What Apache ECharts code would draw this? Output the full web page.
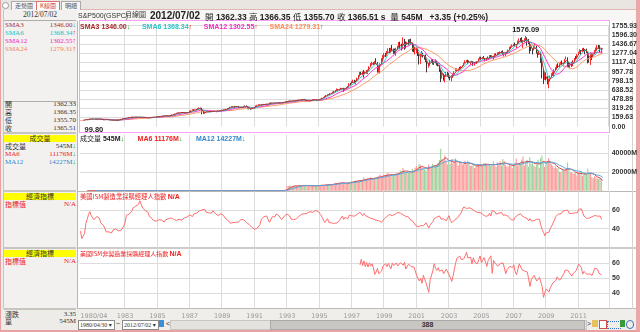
<!DOCTYPE html>
<html lang="zh-Hant">
<head>
<meta charset="utf-8">
<title>S&amp;P500(GSPC) 月線圖</title>
<script src="https://cdn.jsdelivr.net/npm/echarts@6/dist/echarts.min.js"></script>
<style>
html,body{margin:0;padding:0;}
body{width:640px;height:332px;position:relative;overflow:hidden;background:#eeece8;font-family:"Liberation Sans",Arial,sans-serif;}
.a{position:absolute;white-space:nowrap;line-height:1;}
.cjk{font-family:"Noto Sans CJK TC","Noto Sans CJK SC",sans-serif;}
.sf{font-family:"Liberation Serif","DejaVu Serif",serif;}
.b{font-weight:bold;}
.box{position:absolute;}
#chart{position:absolute;left:0;top:0;width:640px;height:332px;z-index:2;}
.ov{z-index:3;}
.yel{position:absolute;left:4px;width:72px;background:#ffff00;text-align:center;font-size:7px;line-height:7px;color:#333;}
.row{position:absolute;left:5px;width:71px;font-size:7px;line-height:7px;}
.row .r{position:absolute;right:0;top:0;}
.dn{color:#119911;}
.up{color:#ee1111;}
</style>
</head>
<body>
<!-- window frame -->
<div class="box" style="left:0;top:0;width:640px;height:10px;background:#e9e6e2;"></div>
<div class="box" style="left:0;top:0;width:1px;height:332px;background:#e9a0a0;"></div>
<div class="box" style="left:636px;top:0;width:4px;height:332px;background:#eaa8a8;"></div>
<div class="box" style="left:0;top:330px;width:640px;height:2px;background:#e9a0a0;"></div>
<div class="box" style="left:77px;top:9px;width:559px;height:1px;background:#e3b4b4;"></div>

<!-- tabs -->
<div class="a" style="left:2px;top:2px;width:5px;height:5px;border:1px solid #999;border-radius:4px;background:#fff;"></div>
<div class="a cjk" style="left:11px;top:1px;height:8px;padding:0 3px;border:1px solid #aaa;border-bottom:none;font-size:6px;line-height:8px;color:#555;background:#f6f6f6;">走勢圖</div>
<div class="a cjk" style="left:36px;top:1px;height:8px;padding:0 3px;border:1px solid #e07070;border-bottom:none;font-size:6px;line-height:8px;color:#d04040;background:#fff;">K線圖</div>
<div class="a cjk" style="left:61px;top:1px;height:8px;padding:0 3px;border:1px solid #aaa;border-bottom:none;font-size:6px;line-height:8px;color:#555;background:#f6f6f6;">明細</div>

<!-- left info panel -->
<div class="box" style="left:3px;top:10px;width:73px;height:299px;background:#f2f1ef;border-right:1px solid #b9b6b2;border-left:1px solid #c9c6c2;"></div>
<div class="a sf" style="left:4px;top:11px;width:72px;text-align:center;font-size:7.5px;color:#333;">2012/07/02</div>
<div class="box" style="left:4px;top:20px;width:72px;height:1px;background:#b0aca8;"></div>
<div class="row sf" style="top:22px;color:#a03030;">SMA3<span class="r" id="lv3"></span></div>
<div class="row sf" style="top:30px;color:#22bbbb;">SMA6<span class="r" id="lv6"></span></div>
<div class="row sf" style="top:38px;color:#ee22bb;">SMA12<span class="r" id="lv12"></span></div>
<div class="row sf" style="top:46px;color:#ee8855;">SMA24<span class="r" id="lv24"></span></div>
<div class="box" style="left:4px;top:101px;width:72px;height:1px;background:#b0aca8;"></div>
<div class="row cjk" style="top:101px;color:#333;">開<span class="r sf" id="vo"></span></div>
<div class="row cjk" style="top:109px;color:#333;">高<span class="r sf" id="vh"></span></div>
<div class="row cjk" style="top:117px;color:#333;">低<span class="r sf" id="vl"></span></div>
<div class="row cjk" style="top:125px;color:#333;">收<span class="r sf" id="vc"></span></div>
<div class="box" style="left:4px;top:132px;width:72px;height:2px;background:#c8c4c0;"></div>
<div class="yel cjk" style="top:135px;">成交量</div>
<div class="row cjk" style="top:143px;color:#333;">成交量<span class="r sf" id="pv"></span></div>
<div class="row sf" style="top:151px;color:#ee2222;">MA6<span class="r" id="pm6"></span></div>
<div class="row sf" style="top:159px;color:#3388cc;">MA12<span class="r" id="pm12"></span></div>
<div class="box" style="left:4px;top:190px;width:72px;height:2px;background:#c8c4c0;"></div>
<div class="yel cjk" style="top:193px;">經濟指標</div>
<div class="row cjk" style="top:201px;color:#ee2222;">指標值<span class="r sf">N/A</span></div>
<div class="box" style="left:4px;top:247px;width:72px;height:2px;background:#c8c4c0;"></div>
<div class="yel cjk" style="top:250px;">經濟指標</div>
<div class="row cjk" style="top:258px;color:#ee2222;">指標值<span class="r sf">N/A</span></div>
<div class="box" style="left:4px;top:308px;width:72px;height:2px;background:#c8c4c0;"></div>
<div class="row cjk" style="top:311px;color:#333;">漲跌<span class="r sf" id="bchg"></span></div>
<div class="row cjk" style="top:318px;color:#333;">量<span class="r sf" id="bvol"></span></div>

<!-- title bar -->
<div class="box" style="left:77px;top:10px;width:559px;height:11px;background:#f7f6f4;"></div>
<div class="a ov" style="left:78px;top:12px;font-size:7px;color:#333;">S&amp;P500(GSPC)</div>
<div class="a ov cjk" style="left:125px;top:10.5px;font-size:7px;color:#333;">月線圖</div>
<div class="a ov b" style="left:150px;top:10.5px;font-size:10px;color:#222;" id="tdate"></div>
<div class="a ov b" style="left:205px;top:11.5px;font-size:8.5px;color:#222;" id="tline"></div>

<!-- panes -->
<div class="box" style="left:78px;top:21px;width:558px;height:288px;background:#fff;"></div>
<div class="box" style="left:79px;top:20px;width:529px;height:111px;border:1px solid #f2a4f2;"></div>
<div class="box" style="left:78px;top:191px;width:558px;height:1px;background:#bdbab6;"></div>
<div class="box" style="left:78px;top:247px;width:558px;height:2px;background:#cfccc8;"></div>
<div class="box" style="left:78px;top:308px;width:558px;height:1px;background:#bdbab6;"></div>
<div class="box" style="left:632px;top:21px;width:1px;height:288px;background:#d8d5d1;"></div>

<!-- in-pane legends -->
<div class="a ov b" style="left:80px;top:23px;font-size:7px;" id="lgPrice"></div>
<div class="a ov b" style="left:80px;top:135px;font-size:7px;" id="lgVol"></div>
<div class="a ov cjk" style="left:80px;top:193px;font-size:6.3px;color:#ee2222;">美國ISM製造業採購經理人指數 <span class="b" style="font-family:'Liberation Sans';font-size:7px;">N/A</span></div>
<div class="a ov cjk" style="left:80px;top:250px;font-size:6px;color:#ee2222;">美國ISM非製造業採購經理人指數 <span class="b" style="font-family:'Liberation Sans';font-size:7px;">N/A</span></div>

<!-- bottom controls -->
<div class="box" style="left:78px;top:309px;width:558px;height:21px;background:#f0eeeb;"></div>
<div class="a sf" style="left:78px;top:320px;width:34px;height:8px;border:1px solid #8a8a8a;background:#fff;font-size:6px;line-height:8px;color:#333;padding-left:1px;">1980/04/30 ▾</div>
<div class="a" style="left:116px;top:320px;font-size:7px;color:#333;">~</div>
<div class="a sf" style="left:122px;top:320px;width:34px;height:8px;border:1px solid #8a8a8a;background:#fff;font-size:6px;line-height:8px;color:#333;padding-left:1px;">2012/07/02 ▾</div>
<div class="box" style="left:159px;top:320px;width:5px;height:7px;background:#3f8fd8;"></div>
<div class="a" style="left:166px;top:320px;font-size:7px;color:#333;">&lt;</div>
<div class="box" style="left:170px;top:320px;width:415px;height:8px;background:#e4e2df;border:1px solid #c9c6c2;"></div>
<div class="box b" style="left:270px;top:320px;width:313px;height:8px;background:#c9c7c4;border:1px solid #aaa;text-align:center;font-size:7px;line-height:8px;color:#333;">388</div>
<div class="a" style="left:587px;top:320px;font-size:7px;color:#333;">&gt;</div>
<div class="box" style="left:592px;top:320px;width:6px;height:7px;background:#e8c060;"></div>
<div class="box" style="left:599px;top:320px;width:6px;height:7px;background:#fff;border:1px solid #d05050;"></div>
<div class="box" style="left:607px;top:321px;width:12px;height:6px;border:1px dotted #3a6fd0;"></div>
<div class="box" style="left:620px;top:320px;width:5px;height:7px;background:#3a9a3a;"></div>
<div class="box" style="left:626px;top:320px;width:6px;height:7px;border:1px solid #4070c0;border-radius:4px;"></div>

<div id="chart"></div>

<script>
// S&P 500 monthly bars, 1980/04 .. 2012/07
const startYear = 1980, startMonth = 4, barCount = 388, padSlots = 4;

const opens = [
 102.09,106.29,111.24,114.24,121.67,122.38,125.46,127.47,140.52,
 135.76,129.55,131.27,136.00,132.81,132.59,131.21,130.92,122.79,116.18,121.89,126.35,
 122.55,120.40,113.11,111.96,116.44,111.88,109.61,107.09,119.51,120.42,133.71,138.54,
 140.64,145.30,148.06,152.96,164.42,162.39,168.11,162.56,164.40,166.07,163.55,166.40,
 164.93,163.41,157.06,159.18,160.05,150.55,153.18,150.66,166.68,166.10,166.09,163.58,
 167.24,179.63,181.18,180.66,179.83,189.55,191.85,190.92,188.63,182.08,189.82,202.17,
 211.28,211.78,226.92,238.90,235.52,247.35,250.84,236.12,252.93,231.32,243.98,249.22,
 242.17,274.08,284.20,291.70,288.36,290.10,304.00,318.66,329.80,321.83,251.79,230.30,
 247.08,257.07,267.82,258.89,261.33,262.16,273.50,272.02,261.52,271.91,278.97,273.70,
 277.72,297.47,288.86,294.87,309.64,320.52,317.98,346.08,351.45,349.15,340.36,345.99,
 353.40,329.08,331.89,339.94,330.80,361.23,358.02,356.15,322.56,306.05,304.00,322.22,
 330.22,343.93,367.07,375.22,375.34,389.83,371.16,387.81,395.43,387.86,392.46,375.22,
 417.09,408.79,412.70,403.69,414.95,415.35,408.14,424.21,414.03,417.80,418.68,431.35,
 435.71,438.78,443.38,451.67,440.19,450.19,450.53,448.13,463.56,458.93,467.83,461.79,
 466.45,481.61,467.14,445.77,450.91,456.50,444.27,458.26,475.49,462.69,472.35,453.69,
 459.27,470.42,487.39,500.71,514.71,533.40,544.75,562.06,561.88,584.41,581.50,605.37,
 615.93,636.02,640.43,645.50,654.17,669.12,670.63,639.95,651.99,687.31,705.27,757.02,
 740.74,786.16,790.82,757.12,801.34,848.28,885.14,954.31,899.47,947.28,914.62,955.40,
 970.43,980.28,1049.34,1101.75,1111.75,1090.82,1133.84,1120.67,957.28,1017.01,1098.67,1163.63,
 1229.23,1279.64,1238.33,1286.37,1335.18,1301.84,1372.71,1328.72,1320.41,1282.71,1362.93,1388.91,
 1469.25,1394.46,1366.42,1498.58,1452.43,1420.60,1454.60,1430.83,1517.68,1436.51,1429.40,1314.95,
 1320.28,1366.01,1239.94,1160.33,1249.46,1255.82,1224.42,1211.23,1133.58,1040.94,1059.78,1139.45,
 1148.08,1130.20,1106.73,1147.39,1076.92,1067.14,989.82,911.62,916.07,815.28,885.76,936.31,
 879.82,855.70,841.15,848.18,916.92,963.59,974.50,990.31,1008.01,995.97,1050.71,1058.20,
 1111.92,1131.13,1144.94,1126.21,1107.30,1120.68,1140.84,1101.72,1104.24,1114.58,1130.20,1173.82,
 1211.92,1181.27,1203.60,1180.59,1156.85,1191.50,1191.33,1234.18,1220.33,1228.81,1207.01,1249.48,
 1248.29,1280.08,1280.66,1294.87,1310.61,1270.09,1270.20,1276.66,1303.82,1335.85,1377.94,1400.63,
 1418.30,1438.24,1406.82,1420.86,1482.37,1530.62,1503.35,1455.27,1473.99,1526.75,1549.38,1481.14,
 1468.36,1378.55,1330.63,1322.70,1385.59,1400.38,1280.00,1267.38,1282.83,1166.36,968.75,896.24,
 903.25,825.88,735.09,797.87,872.81,919.14,919.32,987.48,1020.62,1057.08,1036.19,1095.63,
 1115.10,1073.87,1104.49,1169.43,1186.69,1089.41,1030.71,1101.60,1049.33,1141.20,1183.26,1180.55,
 1257.64,1286.12,1327.22,1325.83,1363.61,1345.20,1320.64,1292.28,1218.89,1131.42,1253.30,1246.96,
 1258.86,1312.45,1365.20,1408.47,1397.86,1309.87,1362.33
];

const highs = [
 106.29,111.66,117.17,123.38,126.02,130.40,134.52,141.96,141.33,
 138.12,132.42,137.11,138.38,134.09,135.35,132.41,133.85,123.02,123.71,127.32,126.40,
 122.74,121.38,113.79,119.33,119.47,112.09,112.41,120.43,125.30,137.37,143.99,143.68,
 147.65,151.32,154.09,164.53,166.99,170.99,172.65,166.61,172.34,172.65,167.73,167.27,
 169.53,163.79,161.79,162.00,161.45,154.40,154.01,168.89,169.16,170.41,169.17,168.11,
 180.28,183.95,183.89,182.26,190.44,192.06,195.13,192.13,189.36,191.61,203.77,212.02,
 213.36,228.02,241.36,244.96,247.83,250.84,252.04,254.66,254.39,245.80,251.20,254.87,
 280.96,287.55,301.95,300.67,296.53,309.16,321.83,337.89,332.18,328.13,255.75,249.16,
 265.56,268.44,271.12,262.92,263.39,275.65,274.03,272.98,273.69,283.95,279.71,279.40,
 297.47,300.77,298.03,311.22,322.41,328.84,347.00,359.19,355.10,360.44,347.15,355.52,
 360.59,337.40,344.49,342.00,362.26,367.92,369.78,356.15,323.38,313.74,323.52,330.98,
 344.02,370.47,381.17,390.45,389.83,391.22,390.60,396.64,397.03,393.00,397.81,417.09,
 420.77,417.52,413.37,416.28,418.74,415.41,425.09,425.09,422.44,419.23,431.52,441.28,
 442.66,449.90,456.84,451.82,453.52,451.15,451.30,464.65,463.63,470.52,468.60,471.29,
 482.85,482.85,471.09,453.66,458.42,459.04,459.07,476.07,476.63,474.84,472.89,463.49,
 472.75,489.19,503.90,515.22,535.94,553.04,563.84,565.96,586.75,587.88,608.44,622.88,
 636.18,664.23,656.97,657.33,678.51,673.31,675.88,670.68,690.88,707.31,757.03,761.75,
 794.67,817.68,814.90,804.13,851.87,898.70,954.49,954.31,960.59,983.12,959.79,986.25,
 992.65,1051.89,1105.65,1130.01,1121.02,1140.31,1190.58,1121.27,1066.11,1103.78,1192.97,1244.93,
 1280.00,1283.82,1316.55,1362.80,1367.56,1372.93,1420.33,1357.74,1358.30,1373.17,1407.31,1473.09,
 1478.00,1444.55,1552.87,1527.19,1481.51,1474.63,1517.32,1525.21,1530.09,1454.82,1438.47,1389.06,
 1383.37,1376.38,1267.42,1269.30,1315.93,1286.62,1239.78,1255.81,1143.69,1110.61,1163.38,1173.62,
 1176.55,1130.20,1173.03,1147.84,1106.59,1070.74,994.46,965.00,924.02,900.96,951.57,954.28,
 935.05,864.64,895.90,924.24,965.38,1015.33,1015.41,1011.01,1040.29,1053.79,1063.65,1112.56,
 1155.38,1158.98,1163.23,1150.57,1127.74,1146.18,1140.84,1109.68,1131.54,1140.10,1188.46,1217.33,
 1217.80,1212.16,1229.11,1191.88,1199.56,1219.59,1245.15,1245.86,1243.13,1233.34,1270.64,1275.80,
 1294.90,1297.57,1310.88,1318.16,1326.70,1284.72,1280.42,1306.74,1340.28,1389.45,1407.89,1431.81,
 1441.61,1461.57,1438.89,1498.02,1535.56,1540.56,1555.90,1503.89,1538.74,1576.09,1554.41,1523.57,
 1471.77,1396.02,1359.68,1404.57,1440.24,1404.05,1292.17,1313.15,1303.04,1167.03,1007.51,918.85,
 943.85,877.86,832.98,888.70,930.17,956.23,996.68,1039.47,1080.15,1101.36,1113.69,1130.38,
 1150.45,1112.42,1180.16,1219.80,1205.13,1131.23,1120.95,1129.24,1157.16,1196.14,1227.08,1262.60,
 1302.67,1344.07,1332.28,1364.56,1370.58,1345.20,1356.48,1307.38,1229.29,1292.66,1277.55,1269.37,
 1333.47,1378.04,1419.15,1422.38,1415.32,1363.46,1366.35
];

const lows = [
 99.80,104.72,110.51,113.19,119.64,121.05,122.69,126.29,127.36,
 128.33,125.79,129.21,131.67,128.36,130.14,128.49,122.35,112.77,114.92,119.27,121.29,
 114.88,110.33,106.96,111.59,111.57,105.53,106.10,101.44,117.11,121.03,131.90,133.88,
 138.34,141.41,147.98,152.06,159.55,160.82,159.43,158.50,164.14,161.84,162.21,161.79,
 163.01,154.29,153.63,155.89,150.29,148.25,147.82,150.17,161.71,162.12,162.73,161.65,
 163.36,177.67,176.53,177.77,176.95,185.74,189.15,184.93,180.42,181.77,189.26,199.56,
 203.49,207.10,224.75,232.93,232.74,240.66,233.40,235.29,228.86,232.74,239.19,241.45,
 242.17,272.34,284.05,279.34,280.73,288.36,302.33,317.88,311.34,216.46,223.92,223.92,
 242.63,251.76,258.22,256.11,253.76,262.16,266.10,256.98,261.50,271.05,266.47,272.21,
 273.81,286.43,286.72,294.20,306.71,315.38,316.97,339.91,343.18,326.12,337.21,340.84,
 322.98,322.10,330.38,327.76,330.80,356.14,353.01,305.78,301.13,294.51,304.35,316.25,
 309.35,340.83,364.52,370.08,372.97,368.56,370.84,373.72,381.02,381.52,372.02,371.36,
 406.48,405.62,401.58,400.78,409.32,401.18,406.66,411.73,412.37,404.98,418.44,426.34,
 425.73,431.13,437.89,433.09,437.85,439.46,440.63,446.53,452.41,456.71,454.36,460.66,
 464.36,464.26,436.16,435.86,440.04,442.04,441.91,456.31,460.25,460.44,444.74,445.76,
 457.20,469.29,483.64,501.19,511.66,532.29,544.27,554.62,562.21,573.51,581.15,600.47,
 597.29,633.70,627.63,621.69,645.50,656.44,605.88,639.95,649.82,684.87,703.77,716.69,
 737.01,773.43,756.13,733.54,793.21,833.10,882.57,898.47,898.91,855.27,912.00,914.82,
 912.83,980.28,1047.71,1076.70,1074.91,1074.42,1109.37,939.98,939.46,923.32,1096.74,1136.89,
 1205.46,1211.65,1234.84,1282.50,1281.14,1278.99,1328.72,1268.59,1268.37,1233.66,1342.49,1387.38,
 1350.14,1325.07,1346.62,1339.40,1361.09,1420.60,1413.89,1428.76,1419.44,1305.79,1294.90,1254.07,
 1274.62,1228.42,1081.19,1091.99,1232.00,1203.03,1165.54,1124.87,944.75,1026.76,1054.31,1114.53,
 1081.66,1074.36,1101.72,1063.46,1048.96,952.92,775.68,833.44,800.20,768.63,872.05,869.45,
 840.34,806.29,788.90,847.85,902.83,963.59,962.10,960.84,990.36,995.97,1031.20,1053.41,
 1105.08,1124.44,1087.16,1107.23,1076.32,1113.32,1057.35,1060.72,1101.29,1090.19,1127.60,1173.82,
 1163.75,1180.27,1176.92,1136.15,1146.18,1188.30,1183.55,1201.07,1205.35,1168.20,1201.07,1246.59,
 1245.74,1253.61,1268.42,1280.74,1245.34,1219.29,1224.54,1261.30,1290.93,1327.10,1360.98,1394.49,
 1403.97,1389.42,1363.98,1416.37,1476.70,1484.18,1454.25,1370.60,1465.40,1489.56,1406.10,1435.65,
 1270.05,1316.75,1256.98,1324.35,1373.07,1272.00,1200.44,1247.45,1106.42,839.80,741.02,815.69,
 804.30,734.52,666.79,783.32,866.10,888.86,869.32,978.51,992.25,1020.18,1029.38,1085.89,
 1071.59,1044.50,1101.36,1170.69,1040.78,1028.33,1010.91,1039.70,1048.92,1131.87,1173.00,1186.60,
 1257.62,1294.70,1249.05,1294.70,1311.80,1258.07,1282.86,1101.54,1114.22,1074.77,1158.66,1202.37,
 1258.86,1312.45,1340.03,1357.38,1291.98,1266.74,1355.70
];

const closes = [
 106.29,111.24,114.24,121.67,122.38,125.46,127.47,140.52,135.76,
 129.55,131.27,136.00,132.81,132.59,131.21,130.92,122.79,116.18,121.89,126.35,122.55,
 120.40,113.11,111.96,116.44,111.88,109.61,107.09,119.51,120.42,133.71,138.54,140.64,
 145.30,148.06,152.96,164.42,162.39,168.11,162.56,164.40,166.07,163.55,166.40,164.93,
 163.41,157.06,159.18,160.05,150.55,153.18,150.66,166.68,166.10,166.09,163.58,167.24,
 179.63,181.18,180.66,179.83,189.55,191.85,190.92,188.63,182.08,189.82,202.17,211.28,
 211.78,226.92,238.90,235.52,247.35,250.84,236.12,252.93,231.32,243.98,249.22,242.17,
 274.08,284.20,291.70,288.36,290.10,304.00,318.66,329.80,321.83,251.79,230.30,247.08,
 257.07,267.82,258.89,261.33,262.16,273.50,272.02,261.52,271.91,278.97,273.70,277.72,
 297.47,288.86,294.87,309.64,320.52,317.98,346.08,351.45,349.15,340.36,345.99,353.40,
 329.08,331.89,339.94,330.80,361.23,358.02,356.15,322.56,306.05,304.00,322.22,330.22,
 343.93,367.07,375.22,375.34,389.83,371.16,387.81,395.43,387.86,392.46,375.22,417.09,
 408.79,412.70,403.69,414.95,415.35,408.14,424.21,414.03,417.80,418.68,431.35,435.71,
 438.78,443.38,451.67,440.19,450.19,450.53,448.13,463.56,458.93,467.83,461.79,466.45,
 481.61,467.14,445.77,450.91,456.50,444.27,458.26,475.49,462.69,472.35,453.69,459.27,
 470.42,487.39,500.71,514.71,533.40,544.75,562.06,561.88,584.41,581.50,605.37,615.93,
 636.02,640.43,645.50,654.17,669.12,670.63,639.95,651.99,687.31,705.27,757.02,740.74,
 786.16,790.82,757.12,801.34,848.28,885.14,954.31,899.47,947.28,914.62,955.40,970.43,
 980.28,1049.34,1101.75,1111.75,1090.82,1133.84,1120.67,957.28,1017.01,1098.67,1163.63,1229.23,
 1279.64,1238.33,1286.37,1335.18,1301.84,1372.71,1328.72,1320.41,1282.71,1362.93,1388.91,1469.25,
 1394.46,1366.42,1498.58,1452.43,1420.60,1454.60,1430.83,1517.68,1436.51,1429.40,1314.95,1320.28,
 1366.01,1239.94,1160.33,1249.46,1255.82,1224.42,1211.23,1133.58,1040.94,1059.78,1139.45,1148.08,
 1130.20,1106.73,1147.39,1076.92,1067.14,989.82,911.62,916.07,815.28,885.76,936.31,879.82,
 855.70,841.15,848.18,916.92,963.59,974.50,990.31,1008.01,995.97,1050.71,1058.20,1111.92,
 1131.13,1144.94,1126.21,1107.30,1120.68,1140.84,1101.72,1104.24,1114.58,1130.20,1173.82,1211.92,
 1181.27,1203.60,1180.59,1156.85,1191.50,1191.33,1234.18,1220.33,1228.81,1207.01,1249.48,1248.29,
 1280.08,1280.66,1294.87,1310.61,1270.09,1270.20,1276.66,1303.82,1335.85,1377.94,1400.63,1418.30,
 1438.24,1406.82,1420.86,1482.37,1530.62,1503.35,1455.27,1473.99,1526.75,1549.38,1481.14,1468.36,
 1378.55,1330.63,1322.70,1385.59,1400.38,1280.00,1267.38,1282.83,1166.36,968.75,896.24,903.25,
 825.88,735.09,797.87,872.81,919.14,919.32,987.48,1020.62,1057.08,1036.19,1095.63,1115.10,
 1073.87,1104.49,1169.43,1186.69,1089.41,1030.71,1101.60,1049.33,1141.20,1183.26,1180.55,1257.64,
 1286.12,1327.22,1325.83,1363.61,1345.20,1320.64,1292.28,1218.89,1131.42,1253.30,1246.96,1257.60,
 1312.41,1365.68,1408.47,1397.91,1310.33,1362.16,1365.51
];

// monthly volume (M); the feed carries no volume before 1993
const volumes = [
 0,0,0,0,0,0,0,0,0,
 0,0,0,0,0,0,0,0,0,0,0,0,
 0,0,0,0,0,0,0,0,0,0,0,0,
 0,0,0,0,0,0,0,0,0,0,0,0,
 0,0,0,0,0,0,0,0,0,0,0,0,
 0,0,0,0,0,0,0,0,0,0,0,0,
 0,0,0,0,0,0,0,0,0,0,0,0,
 0,0,0,0,0,0,0,0,0,0,0,0,
 0,0,0,0,0,0,0,0,0,0,0,0,
 0,0,0,0,0,0,0,0,0,0,0,0,
 0,0,0,0,0,0,0,0,0,0,0,0,
 0,0,0,0,0,0,0,0,0,0,0,0,
 0,0,0,0,0,0,0,0,0,0,0,0,
 4800,5000,5600,5200,5000,5200,4900,5100,5300,5600,5400,5200,
 6000,5400,6200,5600,5000,5200,4900,5400,5200,5600,5600,5400,
 5800,5700,6500,5500,6400,6600,6800,6500,6600,7100,6800,7300,
 8400,8300,8600,8800,8200,7800,8900,7200,7800,8900,8700,9000,
 10600,9900,10200,10800,10300,11000,11500,10500,11800,14300,11900,12600,
 13400,12300,14100,13700,12100,13900,14200,14900,15600,17300,14800,15400,
 16900,15200,18100,18800,17000,17400,16200,16800,16900,19200,18700,19400,
 21800,20500,24200,21200,19600,20300,19200,19500,19100,23500,21300,24600,
 26300,23200,28900,27400,24500,23100,23200,21400,24600,28100,25600,25400,
 28800,27100,26800,27300,29600,32800,45000,33500,32700,37600,30600,28000,
 31000,28600,33700,29300,31400,34600,30000,26800,30300,30100,27900,28300,
 31900,28400,32000,28800,26400,26700,27300,24200,25100,28600,28300,26300,
 28800,27300,29200,29700,28600,26800,27100,26800,27900,31600,27300,25400,
 30500,27300,31400,26700,33900,31700,27600,25600,26200,28100,27600,24000,
 27800,29800,34200,27000,29500,28800,33500,36600,26900,29700,32600,25700,
 35800,28600,30800,26900,25700,27700,33000,24300,34900,37700,30300,25300,
 29800,31500,35100,30300,28300,26300,24400,25900,24000,24600,20300,19900,
 22500,21600,22100,22400,30200,23900,19700,19800,18300,18500,18800,16300,
 19600,17600,20300,15600,17100,19700,17700,23800,18700,17900,14600,13100,
 15568,14200,13100,12400,13900,12911,545
];

// ISM Manufacturing PMI, 1980/04 .. 2012/06 (July not yet released)
const ismMfg = [
 37.4,29.4,30.3,35.0,45.5,50.1,55.5,58.2,53.9,
 53.9,49.6,51.0,53.0,52.2,51.3,46.3,46.5,43.6,40.5,36.6,36.6,
 36.6,36.0,35.4,38.5,38.5,39.7,39.6,37.8,38.4,38.1,39.2,42.8,
 46.0,54.4,54.2,55.5,56.3,58.6,62.3,63.8,64.2,65.2,66.0,69.9,
 68.2,62.2,60.6,59.5,58.2,57.5,53.3,51.3,51.0,48.7,49.3,48.1,
 48.1,49.5,47.6,49.3,48.3,47.1,49.4,48.5,50.6,49.9,51.5,49.9,
 50.1,48.5,48.8,49.0,50.1,50.9,49.1,51.2,51.6,51.8,52.6,50.5,
 54.7,53.0,53.0,55.8,57.0,56.6,57.3,59.0,59.8,60.0,59.0,60.9,
 57.6,56.9,56.9,57.4,56.7,59.3,58.1,56.0,54.8,54.1,55.6,56.0,
 54.7,54.1,51.5,52.4,49.3,47.3,45.9,45.1,46.4,46.8,46.8,47.4,
 47.2,49.1,49.9,50.0,49.5,49.2,46.6,46.1,44.5,43.2,41.3,40.8,
 39.2,39.4,40.7,42.7,44.5,50.3,50.6,52.9,54.9,53.6,49.5,46.8,
 47.3,52.7,54.6,52.6,55.7,53.6,53.9,53.4,49.7,50.6,53.6,54.2,
 55.8,55.2,53.5,50.2,51.2,49.6,50.2,50.7,50.8,53.4,53.8,55.6,
 56.0,56.0,56.7,56.5,57.3,58.2,58.5,57.5,59.2,59.4,59.7,58.4,
 57.4,55.1,52.1,51.5,46.7,45.9,50.7,46.7,48.1,46.1,45.9,45.7,
 45.5,46.2,45.9,49.2,49.4,53.6,49.8,52.2,51.2,50.6,54.3,55.2,
 53.8,52.0,53.4,53.1,55.5,56.1,57.7,56.3,53.9,56.3,54.1,53.0,
 52.7,52.0,51.1,50.7,50.3,48.9,49.1,48.7,48.6,48.2,46.8,46.2,
 50.6,51.7,53.1,52.4,55.2,56.0,53.9,54.5,55.5,56.9,57.3,57.2,
 56.7,55.8,54.9,54.7,53.2,51.4,52.5,49.9,49.9,48.3,48.5,43.9,
 42.3,41.9,43.1,43.2,41.3,43.2,43.5,46.3,46.2,40.8,44.1,45.3,
 47.5,50.7,52.4,52.4,53.1,53.6,50.2,50.3,50.5,48.5,48.5,51.6,
 53.9,48.8,46.3,45.4,49.4,49.0,51.0,53.2,53.7,57.0,61.0,63.4,
 63.6,61.4,61.4,62.4,62.8,61.1,62.0,59.0,58.5,57.3,57.8,57.3,
 56.4,55.3,55.2,53.3,51.4,53.8,56.6,53.6,59.4,59.1,58.1,55.6,
 54.8,56.7,55.2,57.3,54.4,53.8,54.7,54.5,52.9,51.2,49.5,51.4,
 49.3,52.3,50.9,54.7,55.0,56.0,53.8,52.9,52.0,50.9,50.8,48.4,
 50.7,48.3,48.6,48.6,49.6,50.2,50.0,49.9,43.5,38.9,36.2,32.4,
 35.6,35.8,36.3,40.1,42.8,44.8,48.9,52.9,52.6,55.7,53.6,55.9,
 58.4,56.5,59.6,60.4,59.7,56.2,55.5,56.3,54.4,56.9,56.6,57.0,
 60.8,61.4,61.2,60.4,53.5,55.3,50.9,50.6,51.6,50.8,52.7,53.9,
 54.1,52.4,53.4,54.8,53.5,49.7
];

// ISM Non-Manufacturing index, 1997/07 .. 2012/06
const nmiStart = '1997/07';
const ismNonMfg = [
 58.9,62.7,58.4,61.6,57.7,60.5,
 57.5,60.3,58.1,59.6,57.0,52.6,54.2,56.6,53.1,53.9,54.8,58.0,
 56.8,59.7,57.7,59.9,60.3,56.3,60.1,58.6,58.1,60.1,58.2,57.8,
 60.5,59.8,58.7,60.6,56.2,56.0,59.5,60.2,57.7,58.5,57.6,56.4,
 52.0,51.4,48.2,50.0,46.7,52.0,49.1,47.0,45.7,40.6,49.0,50.0,
 54.9,59.7,56.8,55.2,57.1,54.8,54.1,55.6,53.1,53.1,56.1,54.2,
 55.2,50.5,47.9,51.5,56.2,60.6,63.6,63.9,64.8,62.5,61.6,63.0,
 63.1,67.3,63.5,63.8,64.1,59.6,63.7,60.8,62.0,59.6,62.5,64.9,
 60.3,60.3,63.8,61.1,57.9,61.9,61.0,65.0,53.3,61.9,60.2,59.1,
 58.1,59.3,59.7,59.6,60.3,56.9,53.0,55.8,55.7,58.0,57.8,57.1,
 59.0,54.3,52.4,56.0,59.7,60.7,55.8,55.8,54.8,55.8,54.1,53.2,
 44.6,49.3,49.6,52.0,51.7,48.2,49.5,50.6,50.2,44.4,37.3,40.6,
 42.9,41.6,40.8,43.7,44.0,47.0,46.4,48.4,50.9,50.6,48.7,50.1,
 50.5,53.0,55.4,55.4,55.4,53.8,54.3,51.5,53.2,54.3,55.0,57.1,
 59.4,59.7,57.3,52.8,54.6,53.3,52.7,53.3,53.0,52.9,52.0,52.6,
 56.8,57.3,56.0,53.5,53.7,52.1
];

// price-axis ticks
const priceMax = 1755.93, priceStep = 159.63;

// ---- derived series ----
const cats = [];
for (let i = 0; i < barCount; i++) {
  const m = startMonth - 1 + i;
  const y = startYear + Math.floor(m / 12), mm = (m % 12) + 1;
  cats.push(y + '/' + (mm < 10 ? '0' + mm : mm));
}
const axisCats = cats.concat(new Array(padSlots).fill(''));

function movingAvg(arr, n) {
  return arr.map((v, i) => {
    if (i < n - 1) return '-';
    let s = 0;
    for (let k = i - n + 1; k <= i; k++) s += arr[k];
    return +(s / n).toFixed(2);
  });
}
const sma3 = movingAvg(closes, 3), sma6 = movingAvg(closes, 6),
      sma12 = movingAvg(closes, 12), sma24 = movingAvg(closes, 24);
const vma6 = movingAvg(volumes, 6), vma12 = movingAvg(volumes, 12);

const kData = cats.map((c, i) => [opens[i], closes[i], lows[i], highs[i]]);
const UP = '#ff2a2a', DOWN = '#3a3a3a';
const volData = volumes.map((v, i) => ({
  value: v,
  itemStyle: { color: closes[i] >= opens[i] ? '#ff9a9a' : '#9fd39f' }
}));
const nmiOffset = cats.indexOf(nmiStart);
const nmiSeries = cats.map((c, i) => (i >= nmiOffset && i - nmiOffset < ismNonMfg.length) ? ismNonMfg[i - nmiOffset] : '-');
const mfgSeries = cats.map((c, i) => i < ismMfg.length ? ismMfg[i] : '-');

let maxIdx = 0, minIdx = 0;
highs.forEach((h, i) => { if (h > highs[maxIdx]) maxIdx = i; });
lows.forEach((l, i) => { if (l < lows[minIdx]) minIdx = i; });

// ---- text panels ----
const last = barCount - 1;
const arrow = (a, b) => a >= b ? '<span class="up">&#8593;</span>' : '<span class="dn">&#8595;</span>';
const f2 = v => v.toFixed(2);
const lastSma = [sma3, sma6, sma12, sma24].map(s => [s[last], s[last - 1]]);
['lv3', 'lv6', 'lv12', 'lv24'].forEach((id, k) => {
  document.getElementById(id).innerHTML = f2(lastSma[k][0]) + arrow(lastSma[k][0], lastSma[k][1]);
});
document.getElementById('vo').textContent = f2(opens[last]);
document.getElementById('vh').textContent = f2(highs[last]);
document.getElementById('vl').textContent = f2(lows[last]);
document.getElementById('vc').textContent = f2(closes[last]);
const vFmt = v => Math.round(v) + 'M';
document.getElementById('pv').innerHTML = vFmt(volumes[last]) + arrow(volumes[last], volumes[last - 1]);
document.getElementById('pm6').innerHTML = vFmt(vma6[last]) + arrow(vma6[last], vma6[last - 1]);
document.getElementById('pm12').innerHTML = vFmt(vma12[last]) + arrow(vma12[last], vma12[last - 1]);
const chg = closes[last] - closes[last - 1];
document.getElementById('bchg').textContent = f2(chg);
document.getElementById('bvol').textContent = vFmt(volumes[last]);

const lastDate = '2012/07/02';
document.getElementById('tdate').textContent = lastDate;
document.getElementById('tline').innerHTML =
  '<span class="cjk" style="font-weight:normal">開</span> ' + f2(opens[last]) +
  ' <span class="cjk" style="font-weight:normal">高</span> ' + f2(highs[last]) +
  ' <span class="cjk" style="font-weight:normal">低</span> ' + f2(lows[last]) +
  ' <span class="cjk" style="font-weight:normal">收</span> ' + f2(closes[last]) + ' s' +
  ' &nbsp;<span class="cjk" style="font-weight:normal">量</span> ' + vFmt(volumes[last]) +
  ' &nbsp; ' + (chg >= 0 ? '+' : '') + f2(chg) + ' (' + (chg >= 0 ? '+' : '') + (chg / closes[last - 1] * 100).toFixed(2) + '%)';

const lg = (name, color, cur, prev) =>
  '<span style="color:' + color + '">' + name + ' ' + cur + '</span>' + arrow(+cur.replace('M', ''), prev);
document.getElementById('lgPrice').innerHTML =
  lg('SMA3', '#a52a2a', f2(sma3[last]), sma3[last - 1]) + '&nbsp;&nbsp;&nbsp;&nbsp;&nbsp;&nbsp;' +
  lg('SMA6', '#2cc6c6', f2(sma6[last]), sma6[last - 1]) + '&nbsp;&nbsp;&nbsp;&nbsp;&nbsp;&nbsp;' +
  lg('SMA12', '#f02cc0', f2(sma12[last]), sma12[last - 1]) + '&nbsp;&nbsp;&nbsp;&nbsp;&nbsp;&nbsp;' +
  lg('SMA24', '#ff8c55', f2(sma24[last]), sma24[last - 1]);
document.getElementById('lgVol').innerHTML =
  '<span class="cjk" style="color:#222;font-weight:normal">成交量</span> <span style="color:#222">' + vFmt(volumes[last]) + '</span>' + arrow(volumes[last], volumes[last - 1]) +
  '&nbsp;&nbsp;&nbsp;&nbsp;&nbsp;&nbsp;&nbsp;' +
  '<span style="color:#ee2222">MA6 ' + vFmt(vma6[last]) + '</span>' + arrow(vma6[last], vma6[last - 1]) +
  '&nbsp;&nbsp;&nbsp;&nbsp;&nbsp;&nbsp;&nbsp;' +
  '<span style="color:#3388cc">MA12 ' + vFmt(vma12[last]) + '</span>' + arrow(vma12[last], vma12[last - 1]);

// ---- chart ----
const gridLeft = 79.8, gridWidth = 529.2;
const grids = [
  { left: gridLeft, width: gridWidth, top: 25.7, height: 101 },
  { left: gridLeft, width: gridWidth, top: 134.6, height: 56.1 },
  { left: gridLeft, width: gridWidth, top: 191.3, height: 56.1 },
  { left: gridLeft, width: gridWidth, top: 248.3, height: 60 }
];
const yearTick = (i, v) => i > 20 && typeof v === 'string' && v.slice(5) === '01' && (+v.slice(0, 4)) % 2 === 1;
const gridLine = { color: '#dcdcdc', width: 1 };
const xAxes = grids.map((g, k) => ({
  type: 'category', gridIndex: k, data: axisCats, boundaryGap: true,
  axisLine: { show: false }, axisTick: { show: false },
  axisLabel: k === 3 ? {
    show: true, margin: 5, fontSize: 6.5, color: '#999', fontFamily: 'DejaVu Sans',
    alignMinLabel: 'left',
    interval: (i, v) => i === 0 || yearTick(i, v),
    formatter: (v, i) => i === 0 ? v : v.slice(0, 4)
  } : { show: false },
  splitLine: { show: true, interval: (i, v) => yearTick(i, v), lineStyle: gridLine }
}));
const yLabel = { fontSize: 7, fontWeight: 'bold', color: '#333', margin: 3, fontFamily: 'Liberation Sans' };
const yAxes = [
  { type: 'value', gridIndex: 0, position: 'right', min: 0, max: priceMax, interval: priceStep,
    axisLabel: Object.assign({ formatter: v => v.toFixed(2) }, yLabel),
    splitLine: { lineStyle: gridLine, showMinLine: false }, axisLine: { show: false }, axisTick: { show: false } },
  { type: 'value', gridIndex: 1, position: 'right', min: 0, max: 60000, interval: 20000,
    axisLabel: Object.assign({ formatter: v => v + 'M', showMinLabel: false, showMaxLabel: false }, yLabel),
    splitLine: { lineStyle: gridLine, showMinLine: false, showMaxLine: false }, axisLine: { show: false }, axisTick: { show: false } },
  { type: 'value', gridIndex: 2, position: 'right', min: 20, max: 80, interval: 20,
    axisLabel: Object.assign({ showMinLabel: false, showMaxLabel: false }, yLabel),
    splitLine: { lineStyle: gridLine, showMinLine: false, showMaxLine: false }, axisLine: { show: false }, axisTick: { show: false } },
  { type: 'value', gridIndex: 3, position: 'right', min: 30, max: 70, interval: 10,
    axisLabel: Object.assign({ showMinLabel: false, showMaxLabel: false }, yLabel),
    splitLine: { lineStyle: gridLine, showMinLine: false, showMaxLine: false }, axisLine: { show: false }, axisTick: { show: false } }
];
const line = (name, data, color, xi, yi) => ({
  name, type: 'line', data, xAxisIndex: xi, yAxisIndex: yi, symbol: 'none', silent: true,
  lineStyle: { color, width: 1 }, animation: false, z: 3
});
const markLabel = { show: true, formatter: '{c}', fontSize: 7.5, fontWeight: 'bold', color: '#222', fontFamily: 'Liberation Sans' };

const chart = echarts.init(document.getElementById('chart'), null, { renderer: 'canvas' });
chart.setOption({
  backgroundColor: 'transparent',
  animation: false,
  grid: grids.map(g => Object.assign({ show: false }, g)),
  xAxis: xAxes,
  yAxis: yAxes,
  series: [
    { name: 'K', type: 'candlestick', data: kData, xAxisIndex: 0, yAxisIndex: 0, barWidth: 1,
      itemStyle: { color: UP, color0: DOWN, borderColor: UP, borderColor0: DOWN, borderWidth: 1 },
      markPoint: {
        symbol: 'circle', symbolSize: 0, silent: true,
        data: [
          { coord: [maxIdx, highs[maxIdx]], value: f2(highs[maxIdx]),
            label: Object.assign({ position: 'top', distance: 2 }, markLabel) },
          { coord: [minIdx, lows[minIdx]], value: f2(lows[minIdx]),
            label: Object.assign({ position: 'insideTopLeft', offset: [-1, 0] }, markLabel) }
        ]
      },
      z: 2 },
    line('SMA24', sma24, '#ff9966', 0, 0),
    line('SMA12', sma12, '#ff33cc', 0, 0),
    line('SMA6', sma6, '#33cccc', 0, 0),
    line('SMA3', sma3, '#b03030', 0, 0),
    { name: 'VOL', type: 'bar', data: volData, xAxisIndex: 1, yAxisIndex: 1, barCategoryGap: '15%', silent: true },
    line('MA6', vma6, '#d04848', 1, 1),
    line('MA12', vma12, '#5aa6e0', 1, 1),
    line('ISM', mfgSeries, '#ff6e6e', 2, 2),
    line('ISM-NM', nmiSeries, '#ff6e6e', 3, 3)
  ]
});
</script>
</body>
</html>
